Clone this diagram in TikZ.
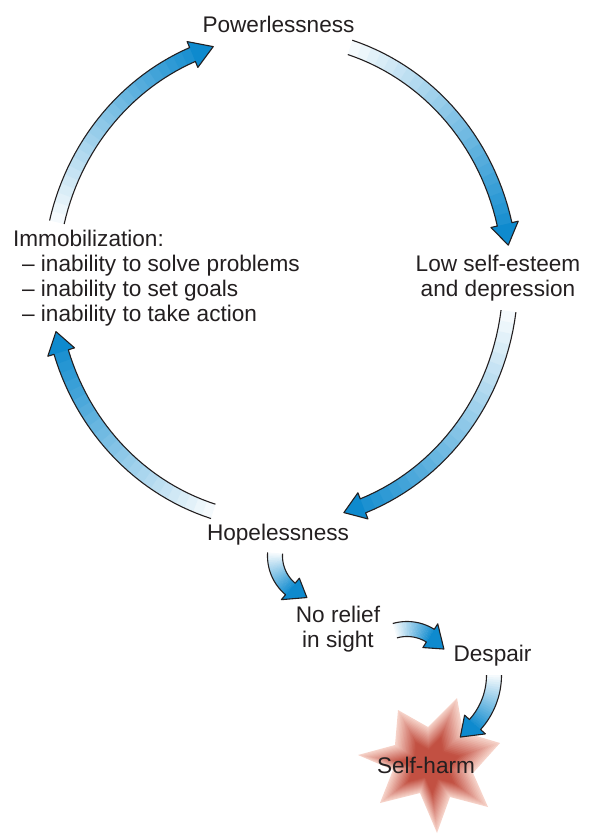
\documentclass[tikz,border=0pt]{standalone}
\usepackage{fontspec}
\setmainfont{Liberation Sans}
\usetikzlibrary{calc}

\definecolor{cycblue}{RGB}{14,138,206}
\definecolor{inkgray}{RGB}{35,31,32}
\definecolor{burstred}{RGB}{194,80,66}
\definecolor{burstpale}{RGB}{246,210,200}

% curved block arrow: centre, x radius, y radius, start angle, end angle, tip angle
\newcommand{\bendarrow}[6]{%
  \begin{scope}[shift={(#1)}]
    \foreach \i in {0,...,23} {
      \pgfmathsetmacro{\ta}{(#4)+((#5)-(#4))*\i/24}
      \pgfmathsetmacro{\tb}{(#4)+((#5)-(#4))*(\i+1.2)/24}
      \pgfmathsetmacro{\mix}{4+90*\i/23}
      \fill[cycblue!\mix!white]
        ({(#2+7.5)*cos(\ta)},{(#3+7.5)*sin(\ta)}) -- ({(#2+7.5)*cos(\tb)},{(#3+7.5)*sin(\tb)})
        -- ({(#2-7.5)*cos(\tb)},{(#3-7.5)*sin(\tb)}) -- ({(#2-7.5)*cos(\ta)},{(#3-7.5)*sin(\ta)}) -- cycle;
    }
    \fill[cycblue] ({(#2+14)*cos(#5)},{(#3+14)*sin(#5)}) -- ({#2*cos((#5)+(#6))},{#3*sin((#5)+(#6))})
      -- ({(#2-14)*cos(#5)},{(#3-14)*sin(#5)}) -- cycle;
    \draw[rim] plot[domain=#4:#5, samples=30] ({(#2+7.5)*cos(\x)},{(#3+7.5)*sin(\x)})
      -- ({(#2+14)*cos(#5)},{(#3+14)*sin(#5)}) -- ({#2*cos((#5)+(#6))},{#3*sin((#5)+(#6))})
      -- ({(#2-14)*cos(#5)},{(#3-14)*sin(#5)})
      -- plot[domain=#5:#4, samples=30] ({(#2-7.5)*cos(\x)},{(#3-7.5)*sin(\x)});
  \end{scope}}

\begin{document}
\begin{tikzpicture}[
  x=0.5pt, y=-0.5pt,
  lbl/.style={font=\fontsize{11.3}{12.5}\selectfont, text=inkgray, inner sep=0pt},
  rim/.style={draw=inkgray, line width=0.55pt, line join=round}
]
  \useasboundingbox (0,0) rectangle (591,834);

  % the burst behind the last step, shrinking copies from pale to red
  \coordinate (burstmid) at (429,766);
  \begin{scope}[shift={(burstmid)}]
    \foreach \k in {0,...,15} {
      \pgfmathsetmacro{\s}{1-0.04*\k}
      \pgfmathsetmacro{\mix}{min(100,\k*7)}
      \fill[burstred!\mix!burstpale, scale=\s] (28,-68) -- (-1,-39) -- (-31,-56) -- (-34,-21) -- (-71,-11)
        -- (-36,4) -- (-49,37) -- (-9,27) -- (8,67) -- (21,31) -- (59,41) -- (44,7) -- (71,-23)
        -- (34,-34) -- cycle;
    }
  \end{scope}

  \coordinate (cyc) at (280.5,279);
  \coordinate (bendA) at (318,556);
  \coordinate (bendB) at (407,673);
  \coordinate (bendC) at (420,675);

  \bendarrow{cyc}{230}{243}{-72.4}{-13}{5}
  \bendarrow{cyc}{230}{243}{7.6}{69}{5}
  \bendarrow{cyc}{230}{243}{107}{162.5}{5}
  \bendarrow{cyc}{230}{243}{193.5}{247.5}{5.5}
  \bendarrow{bendA}{43}{43}{184}{130}{-25}
  \bendarrow{bendB}{44}{44}{-106}{-58}{25}
  \bendarrow{bendC}{74}{74}{0}{42}{15}

  \node[lbl, anchor=base] (power) at (278.5,33) {Powerlessness};
  \node[lbl, align=center] (esteem) at (498,278.4) {Low self-esteem\\and depression};
  \node[lbl, align=left, anchor=west] (immob) at (12.7,278) {Immobilization:\\\hspace*{4.5pt}– inability to solve problems\\\hspace*{4.5pt}– inability to set goals\\\hspace*{4.5pt}– inability to take action};
  \node[lbl, anchor=base] (hope) at (278,540) {Hopelessness};
  \node[lbl, align=center] (relief) at (338,629.4) {No relief\\in sight};
  \node[lbl, anchor=base] (despair) at (492.5,661) {Despair};
  \node[lbl, anchor=base] (harm) at (426,773) {Self-harm};
\end{tikzpicture}
\end{document}
